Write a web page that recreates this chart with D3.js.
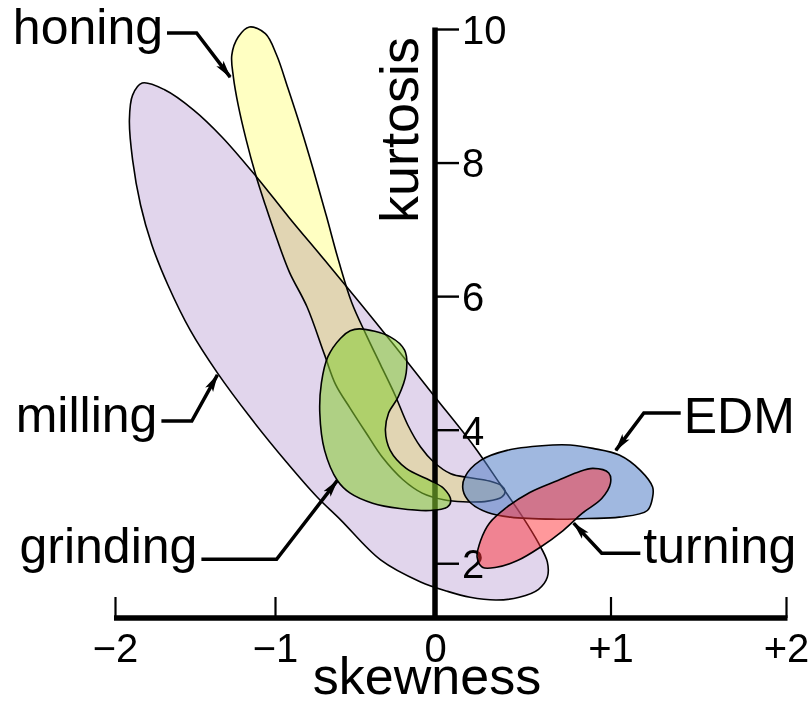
<!DOCTYPE html>
<html><head><meta charset="utf-8">
<script src="https://cdn.jsdelivr.net/npm/d3@7"></script>
<style>
html,body{margin:0;padding:0;background:#fff;}
svg{display:block;font-family:"Liberation Sans",Arial,Helvetica,sans-serif;}
</style>
</head><body>
<svg id="chart" width="810" height="705"></svg>
<script>
// ---- data (skewness, kurtosis) ----
const skewTicks = [-2, -1, 0, 1, 2];
const skewTickLabels = ["\u22122", "\u22121", "0", "+1", "+2"];
const kurtTicks = [2, 4, 6, 8, 10];
const kurtTickLabels = ["2", "4", "6", "8", "10"];

const milling = [[-1.83,9.19],[-1.69,9.09],[-1.51,8.79],[-1.33,8.38],[-1.11,7.77],[-0.91,7.17],[-0.69,6.54],[-0.47,5.90],[-0.25,5.25],[-0.01,4.52],[0.22,3.76],[0.37,3.19],[0.50,2.69],[0.59,2.30],[0.64,2.02],[0.64,1.79],[0.59,1.61],[0.48,1.49],[0.35,1.45],[0.20,1.49],[0.07,1.58],[-0.09,1.72],[-0.34,2.05],[-0.59,2.65],[-0.74,3.00],[-0.93,3.52],[-1.15,4.17],[-1.36,4.85],[-1.53,5.49],[-1.67,6.17],[-1.77,6.77],[-1.84,7.36],[-1.89,8.04],[-1.91,8.64],[-1.89,9.01]];

const honing = [[-1.16,10.03],[-1.06,9.93],[-0.99,9.61],[-0.92,9.12],[-0.84,8.53],[-0.76,7.89],[-0.68,7.21],[-0.60,6.51],[-0.52,5.90],[-0.43,5.42],[-0.34,4.97],[-0.25,4.52],[-0.17,4.07],[-0.09,3.74],[-0.01,3.52],[0.09,3.34],[0.20,3.28],[0.31,3.23],[0.38,3.16],[0.40,3.08],[0.38,2.99],[0.30,2.93],[0.16,2.92],[0.05,2.95],[-0.08,3.05],[-0.20,3.25],[-0.33,3.59],[-0.43,3.95],[-0.53,4.32],[-0.62,4.67],[-0.69,5.12],[-0.80,5.84],[-0.91,6.36],[-0.99,6.87],[-1.06,7.36],[-1.12,7.81],[-1.18,8.34],[-1.23,8.86],[-1.26,9.28],[-1.27,9.61],[-1.23,9.88]];

const grinding = [[-0.47,5.51],[-0.28,5.39],[-0.19,5.19],[-0.18,4.85],[-0.23,4.49],[-0.29,4.25],[-0.31,3.99],[-0.28,3.69],[-0.18,3.42],[-0.03,3.24],[0.05,3.12],[0.09,2.94],[0.07,2.84],[-0.03,2.79],[-0.22,2.82],[-0.39,2.90],[-0.53,3.05],[-0.61,3.24],[-0.69,3.69],[-0.72,4.25],[-0.71,4.70],[-0.67,5.09],[-0.59,5.37],[-0.53,5.48]];

const edm = [[0.67,3.77],[0.77,3.77],[0.90,3.72],[1.05,3.62],[1.17,3.39],[1.24,3.14],[1.24,2.99],[1.21,2.79],[1.05,2.69],[0.87,2.67],[0.67,2.66],[0.43,2.69],[0.30,2.76],[0.20,2.91],[0.16,3.09],[0.17,3.29],[0.26,3.54],[0.41,3.69]];

const turning = [[0.90,3.42],[0.99,3.35],[1.00,3.20],[0.95,2.97],[0.84,2.75],[0.73,2.49],[0.60,2.24],[0.47,2.04],[0.35,1.94],[0.27,1.94],[0.24,2.09],[0.26,2.34],[0.31,2.60],[0.41,2.84],[0.54,3.06],[0.70,3.24],[0.81,3.36]];

// callouts: label, side, [start, elbow, tip], text baseline kurtosis
const calloutLabels = ["honing", "milling", "grinding", "EDM", "turning"];
const calloutSides = ["end", "end", "end", "start", "start"];
const calloutPaths = [
  [[-1.675,9.94],[-1.49,9.94],[-1.28,9.28]],
  [[-1.71,4.13],[-1.52,4.13],[-1.36,4.82]],
  [[-1.46,2.06],[-0.99,2.06],[-0.61,3.24]],
  [[1.40,4.25],[1.19,4.25],[1.03,3.69]],
  [[1.17,2.15],[0.95,2.15],[0.79,2.60]]
];
const calloutBaselines = [9.78, 3.96, 2.00, 3.95, 2.01];

// ---- scales ----
const x = d3.scaleLinear().domain([-2, 0, 2]).range([115, 435, 786]);
const y = d3.scaleLinear().domain([1.18, 10]).range([618, 29]);

const svg = d3.select("#chart");
const shape = d3.line().x(d => x(d[0])).y(d => y(d[1])).curve(d3.curveCatmullRomClosed.alpha(0.5));

function region(data, fill, opts = {}) {
  const p = svg.append("path").attr("d", shape(data))
    .attr("fill", fill).attr("stroke", "#000").attr("stroke-width", 1.6)
    .attr("stroke-linejoin", "round");
  if (opts.blend) p.style("mix-blend-mode", opts.blend);
  if (opts.opacity != null) p.attr("fill-opacity", opts.opacity);
  return p;
}

region(milling, "#e1d5ec");
region(honing, "#ffffc2", { blend: "multiply" });

// ---- axes ----
const xAxisY = y(1.18);
const xAxis = d3.axisBottom(x).tickValues(skewTicks)
  .tickFormat((d, i) => skewTickLabels[i]).tickSizeInner(-21).tickSizeOuter(0);
const gx = svg.append("g").attr("transform", `translate(0,${xAxisY})`).call(xAxis);
gx.select(".domain").attr("stroke", "#000").attr("stroke-width", 5.5).attr("d", `M${x(-2)-1},0H${x(2)+1.5}`);
gx.selectAll(".tick line").attr("stroke", "#000").attr("stroke-width", 2.2);
gx.selectAll(".tick text").attr("y", 44).attr("dy", 0).attr("fill", "#000")
  .attr("font-size", 40).attr("font-family", "Liberation Sans, Arial, sans-serif");

const yAxis = d3.axisRight(y).tickValues(kurtTicks)
  .tickFormat((d, i) => kurtTickLabels[i]).tickSizeInner(24).tickSizeOuter(0).tickPadding(3);
const gy = svg.append("g").attr("transform", `translate(${x(0)},0)`).call(yAxis);
gy.select(".domain").attr("stroke", "#000").attr("stroke-width", 5.5).attr("d", `M0,${y(10)-1.5}V${xAxisY}`);
gy.selectAll(".tick line").attr("stroke", "#000").attr("stroke-width", 2.4);
gy.selectAll(".tick text").attr("fill", "#000").attr("font-size", 40).attr("dy", "0.36em")
  .attr("font-family", "Liberation Sans, Arial, sans-serif");

svg.append("text").text("skewness").attr("x", 427).attr("y", 694)
  .attr("text-anchor", "middle").attr("font-size", 52);
svg.append("text").text("kurtosis").attr("transform", "translate(418,130) rotate(-90)")
  .attr("text-anchor", "middle").attr("font-size", 54);

// ---- overlapping translucent regions ----
region(grinding, "rgb(136,204,50)", { opacity: 0.56 });
region(edm, "rgb(82,126,199)", { opacity: 0.55 });
region(turning, "rgb(255,49,56)", { opacity: 0.5 });

// ---- callouts ----
svg.append("defs").append("marker").attr("id", "arrow")
  .attr("viewBox", "0 0 18 12").attr("refX", 17).attr("refY", 6)
  .attr("markerWidth", 18).attr("markerHeight", 12).attr("markerUnits", "userSpaceOnUse")
  .attr("orient", "auto")
  .append("path").attr("d", "M0,1.5 L18,6 L0,10.5 L4,6 Z").attr("fill", "#000");

const leader = d3.line().x(d => x(d[0])).y(d => y(d[1]));
calloutLabels.forEach((lab, i) => {
  const pts = calloutPaths[i];
  svg.append("path").attr("d", leader(pts)).attr("fill", "none")
    .attr("stroke", "#000").attr("stroke-width", 3.5).attr("stroke-linejoin", "miter")
    .attr("marker-end", "url(#arrow)");
  const side = calloutSides[i];
  svg.append("text").text(lab)
    .attr("x", x(pts[0][0]) + (side === "end" ? -4 : 3))
    .attr("y", y(calloutBaselines[i]))
    .attr("text-anchor", side).attr("font-size", 50);
});
</script>
</body></html>
